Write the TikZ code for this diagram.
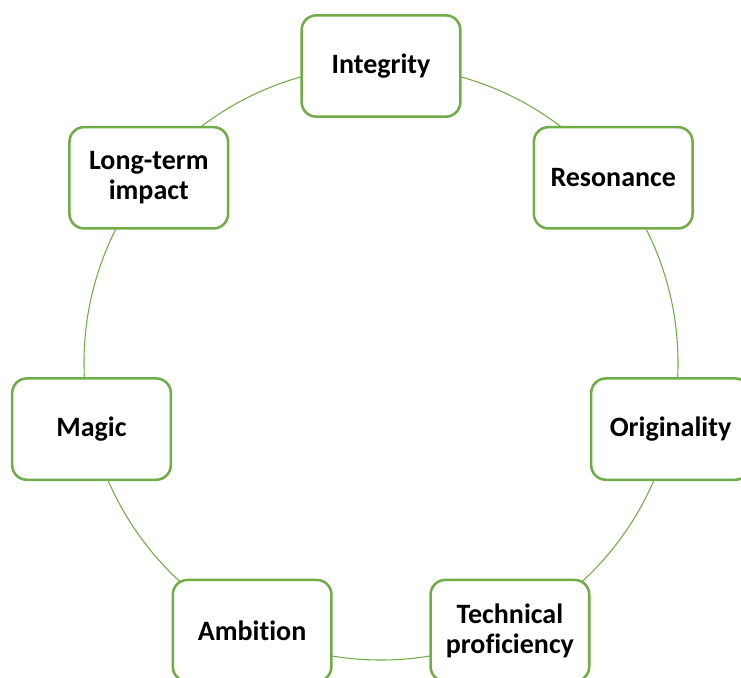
\documentclass[tikz,border=0pt]{standalone}
\usepackage{fontspec}
\setmainfont{Carlito}[Ligatures=NoCommon]
\definecolor{leafgreen}{RGB}{112,173,71}
\tikzset{
	valuebox/.style={draw=leafgreen, line width=1.9pt, fill=white, rounded corners=11pt, minimum width=119pt, minimum height=76pt, align=center, inner sep=2pt, font=\fontsize{21}{22.8}\selectfont\bfseries},
	ring/.style={draw=leafgreen, line width=0.8pt}
}
\begin{document}
\begin{tikzpicture}[x=0.75pt,y=0.75pt,yscale=-1,xscale=1]
	\useasboundingbox (0,0) rectangle (741,677);
	\coordinate (hub) at (381,363);
	\draw [ring] (hub) circle [radius=297];
	\node (integrity) at (381,66) [valuebox] {Integrity};
	\node (resonance) at (613.2,177.8) [valuebox] {Resonance};
	\node (originality) at (670.5,429.1) [valuebox] {Originality};
	\node (technical) at (509.9,630.6) [valuebox] {Technical\\proficiency};
	\node (ambition) at (252.1,630.6) [valuebox] {Ambition};
	\node (magic) at (91.5,429.1) [valuebox] {Magic};
	\node (longterm) at (148.8,177.8) [valuebox] {Long-term\\impact};
\end{tikzpicture}
\end{document}
